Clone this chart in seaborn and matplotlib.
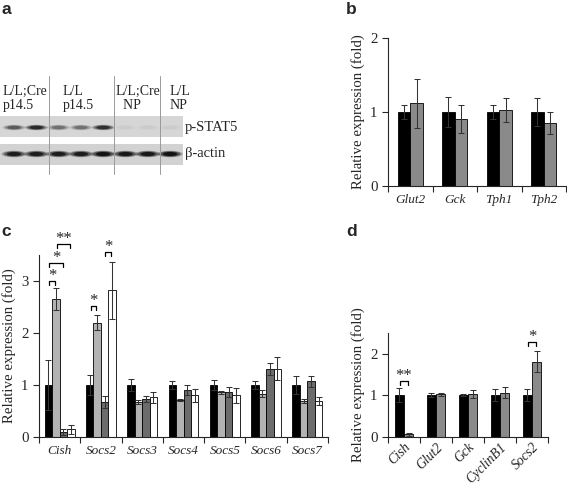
import matplotlib
matplotlib.use('Agg')
import matplotlib.pyplot as plt
from matplotlib.patches import Rectangle, Ellipse
import numpy as np
import pandas as pd
import seaborn as sns

# ---- data ----
# panel a: western blot lanes
blot_groups = ['L/L;Cre\np14.5', 'L/L\np14.5', 'L/L;Cre\n  NP', 'L/L\nNP']
lanes_per_group = [2, 3, 2, 1]
pstat5_signal = [0.45, 0.75, 0.35, 0.35, 0.70, 0.03, 0.03, 0.03]
actin_signal = [0.85, 0.85, 0.85, 0.85, 0.95, 0.90, 0.90, 0.95]

# panel b
b_genes = ['Glut2', 'Gck', 'Tph1', 'Tph2']
b_black = [1.0, 1.0, 1.0, 1.0]
b_black_err = [0.10, 0.20, 0.10, 0.19]
b_grey = [1.12, 0.90, 1.03, 0.85]
b_grey_err = [0.33, 0.19, 0.16, 0.15]

# panel c
c_genes = ['Cish', 'Socs2', 'Socs3', 'Socs4', 'Socs5', 'Socs6', 'Socs7']
c_black = [1.0, 1.0, 1.0, 1.0, 1.0, 1.0, 1.0]
c_black_err = [0.49, 0.20, 0.12, 0.07, 0.09, 0.07, 0.17]
c_light = [2.65, 2.20, 0.67, 0.72, 0.86, 0.83, 0.69]
c_light_err = [0.21, 0.14, 0.04, 0.02, 0.03, 0.07, 0.04]
c_dark = [0.09, 0.67, 0.73, 0.90, 0.86, 1.31, 1.07]
c_dark_err = [0.06, 0.11, 0.05, 0.10, 0.10, 0.12, 0.11]
c_white = [0.15, 2.82, 0.76, 0.80, 0.80, 1.31, 0.69]
c_white_err = [0.09, 0.55, 0.10, 0.12, 0.14, 0.22, 0.07]
# (gene, bar a, bar b, height, label)
c_sig = [('Cish', 0, 1, 3.00, '*'), ('Cish', 0, 2, 3.35, '*'), ('Cish', 1, 3, 3.72, '**'),
         ('Socs2', 0, 1, 2.52, '*'), ('Socs2', 2, 3, 3.56, '*')]

# panel d
d_genes = ['Cish', 'Glut2', 'Gck', 'CyclinB1', 'Socs2']
d_black = [1.0, 1.0, 1.0, 1.0, 1.0]
d_black_err = [0.16, 0.04, 0.03, 0.14, 0.15]
d_grey = [0.05, 1.02, 1.03, 1.06, 1.81]
d_grey_err = [0.03, 0.03, 0.09, 0.13, 0.26]
d_sig = [('Cish', 0, 1, 1.34, '**'), ('Socs2', 0, 1, 2.29, '*')]

sns.set_theme(style='ticks')
plt.rcParams['font.family'] = ['Liberation Serif', 'DejaVu Serif']
plt.rcParams['axes.linewidth'] = 0.8

W, H = 567, 496
fig = plt.figure(figsize=(W / 100, H / 100), dpi=100)


def px_axes(left, top, right, bottom):
    return fig.add_axes([left / W, 1 - bottom / H, (right - left) / W, (bottom - top) / H])


# Draw grouped bars with mean +/- error, ticks between categories
def bar_panel(ax, genes, means, errs, colors, width, ymax, yticks, xfs=9.5):
    rows = []
    for k, vals in enumerate(means):
        for gene, v in zip(genes, vals):
            rows.append({'gene': gene, 'group': 'g%d' % k, 'value': v})
    df = pd.DataFrame(rows)
    sns.barplot(data=df, x='gene', y='value', hue='group', palette=colors, width=width,
                errorbar=None, saturation=1, edgecolor='black', linewidth=0.6,
                legend=False, ax=ax)
    for cont, err in zip(ax.containers, errs):
        xs = [p.get_x() + p.get_width() / 2 for p in cont]
        ys = [p.get_height() for p in cont]
        ax.errorbar(xs, ys, yerr=err, fmt='none', ecolor='#333333', elinewidth=0.75,
                    capsize=2.3, capthick=0.75)
    n = len(genes)
    ax.set_xlim(-0.5, n - 0.5)
    ax.set_ylim(0, ymax)
    ax.set_yticks(yticks)
    ax.set_xticks(np.arange(n + 1) - 0.5, minor=True)
    ax.tick_params(axis='x', which='major', length=0, pad=6, labelsize=xfs)
    ax.tick_params(axis='x', which='minor', length=4, width=0.8, direction='out')
    ax.tick_params(axis='y', length=4, width=0.8, labelsize=10.7)
    ax.set_xlabel('')
    ax.set_ylabel('Relative expression (fold)', fontsize=10.7)
    sns.despine(ax=ax)


def brackets(ax, genes, sig, leg):
    for gene, a, b, y, label in sig:
        gi = genes.index(gene)
        pa = ax.containers[a][gi]
        pb = ax.containers[b][gi]
        x1 = pa.get_x() + pa.get_width() * 0.6
        x2 = pb.get_x() + pb.get_width() * 0.4
        ax.plot([x1, x1, x2, x2], [y - leg, y, y, y - leg], color='black', lw=0.9,
                clip_on=False)
        ax.annotate(label, ((x1 + x2) / 2, y), xytext=(0, 0.5), textcoords='offset points',
                    ha='center', va='baseline', fontsize=12, annotation_clip=False)


# ---- panel a: blot ----
ax_a = px_axes(0, 75, 250, 175)
ax_a.set_xlim(0, 250)
ax_a.set_ylim(175, 75)
ax_a.axis('off')
ax_a.add_patch(Rectangle((0, 116), 183, 21.5, color='#d6d6d6', lw=0))
ax_a.add_patch(Rectangle((0, 144), 183, 20.5, color='#d2d2d2', lw=0))
lane = 0
group_x = [3, 63, 116, 170]
for gi, (lab, nl) in enumerate(zip(blot_groups, lanes_per_group)):
    ax_a.text(group_x[gi], 85, lab, ha='left', va='top', fontsize=10, linespacing=1.15)
    for j in range(nl):
        cx = 14 + lane * 22.3
        for sc, al in [(1.0, 0.3), (0.8, 0.5), (0.55, 0.8)]:
            ax_a.add_patch(Ellipse((cx, 127.5), 21 * sc + 2, 4.5 * sc + 1,
                                   color='black', alpha=pstat5_signal[lane] * al, lw=0))
            ax_a.add_patch(Ellipse((cx, 154), 24 * sc + 1, 5.5 * sc + 1,
                                   color='black', alpha=actin_signal[lane] * al, lw=0))
        lane += 1
for xd in [49, 114, 160]:
    ax_a.plot([xd, xd], [76, 174], color='#9a9a9a', lw=0.7)
ax_a.text(185, 127, 'p-STAT5', ha='left', va='center', fontsize=10.5)
ax_a.text(185, 154, '\u03b2-actin', ha='left', va='center', fontsize=10.5)

# ---- panel b ----
ax_b = px_axes(388, 38, 566, 186)
bar_panel(ax_b, b_genes, [b_black, b_grey], [b_black_err, b_grey_err],
          ['black', '#8a8a8a'], 0.57, 2, [0, 1, 2])
for t in ax_b.get_xticklabels():
    t.set_style('italic')

# ---- panel c ----
ax_c = px_axes(39, 255, 328, 437)
bar_panel(ax_c, c_genes, [c_black, c_light, c_dark, c_white],
          [c_black_err, c_light_err, c_dark_err, c_white_err],
          ['black', '#b3b3b3', '#6c6c6c', 'white'], 0.72, 3.5, [0, 1, 2, 3])
for t in ax_c.get_xticklabels():
    t.set_style('italic')
brackets(ax_c, c_genes, c_sig, 0.08)

# ---- panel d ----
ax_d = px_axes(388, 333, 548, 436.5)
bar_panel(ax_d, d_genes, [d_black, d_grey], [d_black_err, d_grey_err],
          ['black', '#8a8a8a'], 0.58, 2.5, [0, 1, 2])
ax_d.set_xticks(range(len(d_genes)))
ax_d.set_xticklabels(d_genes, rotation=45, ha='right', rotation_mode='anchor',
                     style='italic', fontsize=9.8)
ax_d.tick_params(axis='x', which='major', pad=3)
brackets(ax_d, d_genes, d_sig, 0.1)

# panel letters
for lab, x, y in [('a', 1, 2), ('b', 346, 2), ('c', 1, 224), ('d', 346, 224)]:
    fig.text(x / W, 1 - y / H, lab, ha='left', va='top', fontsize=12.5,
             fontweight='bold', family='Liberation Sans')

fig.savefig('out.png', dpi=100)
